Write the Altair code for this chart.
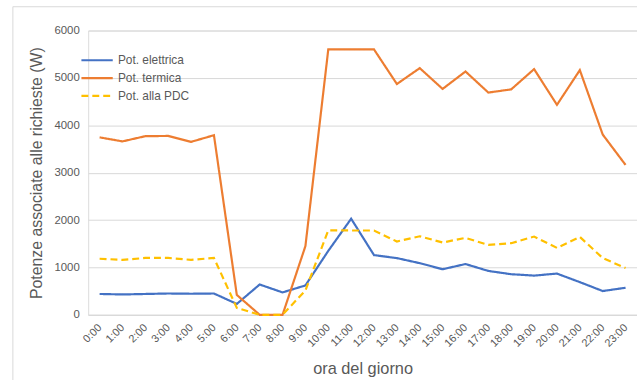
import altair as alt
import pandas as pd

# Hourly power profiles over a day (W)
hours = [f"{h}:00" for h in range(24)]
pot_elettrica = [440, 430, 440, 450, 445, 450, 230, 640, 473, 620, 1350, 2028,
                 1260, 1197, 1090, 962, 1072, 926, 857, 828, 870, 690, 502, 571]
pot_termica = [3745, 3660, 3770, 3775, 3650, 3790, 420, 0, 0, 1450, 5600, 5600,
               5600, 4871, 5206, 4767, 5135, 4690, 4758, 5185, 4432, 5164, 3805, 3163]
pot_pdc = [1183, 1160, 1200, 1200, 1160, 1200, 146, 0, 0, 515, 1783, 1780,
           1780, 1547, 1658, 1526, 1623, 1476, 1512, 1652, 1413, 1645, 1198, 989]

series_names = ["Pot. elettrica", "Pot. termica", "Pot. alla PDC"]
series_colors = ["#4472C4", "#ED7D31", "#FFC000"]
series_dash = [[1, 0], [1, 0], [7, 4]]

rows = []
for name, vals in zip(series_names, [pot_elettrica, pot_termica, pot_pdc]):
    for h, v in zip(hours, vals):
        rows.append({"ora": h, "potenza": v, "serie": name})
df = pd.DataFrame(rows)

FONT = "Liberation Sans"
GREY = "#595959"
LIGHT = "#d9d9d9"

legend = alt.Legend(
    title=None, orient="none", legendX=-8, legendY=22,
    symbolType="stroke", symbolSize=1000, symbolStrokeWidth=2.2,
    labelFont=FONT, labelFontSize=12, labelColor=GREY,
    clipHeight=16, rowPadding=2, labelOffset=4,
)

lines = alt.Chart(df).mark_line(strokeWidth=2.2).encode(
    x=alt.X("ora:O", sort=hours,
            scale=alt.Scale(type="point", padding=0.5),
            axis=alt.Axis(title="ora del giorno", labelAngle=-45, labelAlign="right",
                          labelBaseline="middle", labelPadding=11, ticks=False,
                          domainColor=LIGHT, grid=False,
                          labelFont=FONT, labelFontSize=11, labelColor=GREY,
                          titleFont=FONT, titleFontSize=16.5, titleFontWeight="normal",
                          titleColor=GREY, titlePadding=12)),
    y=alt.Y("potenza:Q", scale=alt.Scale(domain=[0, 6000]),
            axis=alt.Axis(title="Potenze associate alle  richieste (W)",
                          values=[0, 1000, 2000, 3000, 4000, 5000, 6000],
                          format="d", ticks=False, domain=False, labelPadding=9,
                          gridColor=LIGHT,
                          labelFont=FONT, labelFontSize=11.5, labelColor=GREY,
                          titleFont=FONT, titleFontSize=16, titleFontWeight="normal",
                          titleColor=GREY, titlePadding=10)),
    color=alt.Color("serie:N", sort=series_names,
                    scale=alt.Scale(domain=series_names, range=series_colors),
                    legend=legend),
    strokeDash=alt.StrokeDash("serie:N", sort=series_names,
                              scale=alt.Scale(domain=series_names, range=series_dash),
                              legend=None),
)

# Light frame around the whole figure
frame = alt.Chart(pd.DataFrame({"k": [0]})).mark_rect(
    fill="transparent", stroke=LIGHT, strokeWidth=1
).encode(x=alt.value(-76), x2=alt.value(700), y=alt.value(-24), y2=alt.value(400))

chart = alt.layer(frame, lines).properties(
    width=554, height=287,
    autosize=alt.AutoSizeParams(type="none"),
    padding={"left": 89, "top": 29, "right": 0, "bottom": 64},
).configure_view(stroke=None).configure(background="white")

chart.save("out.html", embed_options={"renderer": "svg", "actions": False})
